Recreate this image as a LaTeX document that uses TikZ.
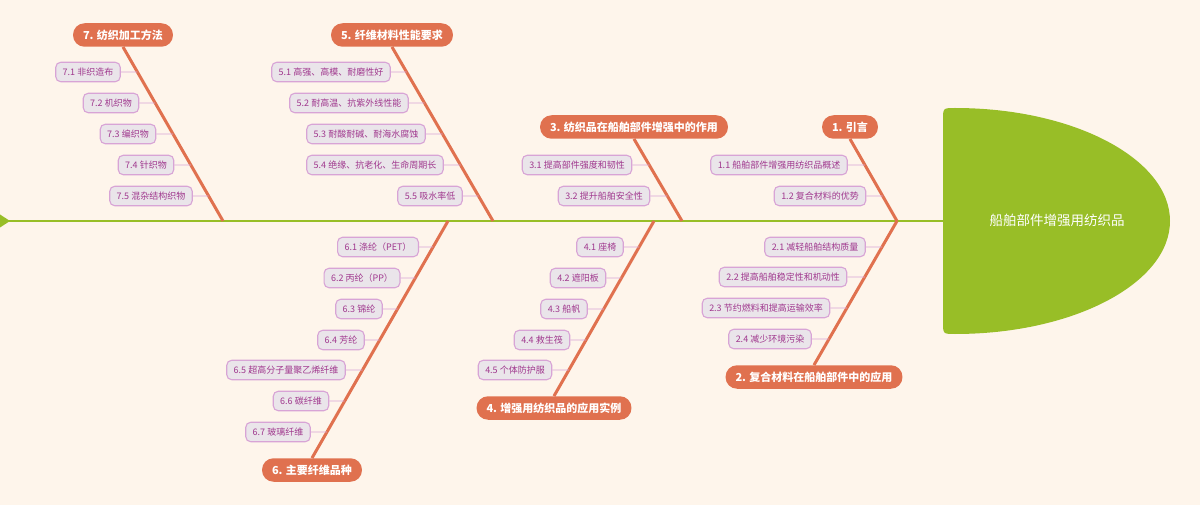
\documentclass[tikz,border=0pt]{standalone}
\usepackage{fontspec}
\setmainfont{Noto Sans CJK SC}
\usetikzlibrary{calc}
\definecolor{bg}{HTML}{FEF5EB}
\definecolor{orng}{HTML}{E0714F}
\definecolor{grn}{HTML}{98BE27}
\definecolor{subfill}{HTML}{EAE5EA}
\definecolor{subdraw}{HTML}{D8A4D6}
\definecolor{subtext}{HTML}{A0388E}
\tikzset{
  mainlbl/.style={fill=orng, text=white, rounded corners=11.5pt, minimum height=23.5pt,
    inner xsep=10pt, inner ysep=0pt, font=\fontsize{11}{13}\selectfont\bfseries},
  subbox/.style={fill=subfill, draw=subdraw, line width=1.1pt, rounded corners=5pt,
    minimum height=19.5pt, inner xsep=7pt, inner ysep=0pt, text=subtext,
    font=\fontsize{9}{11}\selectfont},
  bone/.style={draw=orng, line width=3pt},
  conn/.style={draw=subdraw, line width=0.9pt},
}
\begin{document}
\begin{tikzpicture}[x=1pt,y=-1pt]
\fill[bg] (0,0) rectangle (1200,505);
\useasboundingbox (0,0) rectangle (1200,505);
% spine and tail
\coordinate (tail) at (0,221);
\coordinate (J1) at (897,221);
\coordinate (J3) at (682,221);
\coordinate (J4) at (654,221);
\coordinate (J5) at (493,221);
\coordinate (J6) at (448,221);
\coordinate (J7) at (223,221);
\coordinate (headL) at (943,221);
\draw[grn, line width=1.6pt] (tail) -- (headL);
\fill[grn] (0,214.5) -- (10,221) -- (0,227.5) -- cycle;
% head
\fill[grn] (955,108) .. controls (1074,108) and (1170,159) .. (1170,221)
  .. controls (1170,283) and (1074,334) .. (955,334)
  .. controls (943,334) .. (943,322) -- (943,120) .. controls (943,108) .. (955,108) -- cycle;
\node[text=white, font=\fontsize{13.5}{16}\selectfont] (head) at (1057,220) {船舶部件增强用纺织品};
% main labels
\node[mainlbl] (L1) at (850,127) {1. 引言};
\node[mainlbl] (L2) at (814,377) {2. 复合材料在船舶部件中的应用};
\node[mainlbl] (L3) at (634,127) {3. 纺织品在船舶部件增强中的作用};
\node[mainlbl] (L4) at (554,408) {4. 增强用纺织品的应用实例};
\node[mainlbl] (L5) at (392,35) {5. 纤维材料性能要求};
\node[mainlbl] (L6) at (312,470) {6. 主要纤维品种};
\node[mainlbl] (L7) at (123,35) {7. 纺织加工方法};
% bones
\draw[bone] (L1.south) -- (J1);
\draw[bone] (J1) -- (L2.north);
\draw[bone] (L3.south) -- (J3);
\draw[bone] (J4) -- (L4.north);
\draw[bone] (L5.south) -- (J5);
\draw[bone] (J6) -- (L6.north);
\draw[bone] (L7.south) -- (J7);
% sub boxes
\node[subbox] (s11) at (779,165) {1.1 船舶部件增强用纺织品概述};
\node[subbox] (s12) at (820,196) {1.2 复合材料的优势};
\node[subbox] (s21) at (815,247) {2.1 减轻船舶结构质量};
\node[subbox] (s22) at (783,277) {2.2 提高船舶稳定性和机动性};
\node[subbox] (s23) at (766,308) {2.3 节约燃料和提高运输效率};
\node[subbox] (s24) at (770,339) {2.4 减少环境污染};
\node[subbox] (s31) at (577,165) {3.1 提高部件强度和韧性};
\node[subbox] (s32) at (604,196) {3.2 提升船舶安全性};
\node[subbox] (s41) at (600,247) {4.1 座椅};
\node[subbox] (s42) at (578,278) {4.2 遮阳板};
\node[subbox] (s43) at (564,309) {4.3 船帆};
\node[subbox] (s44) at (542,340) {4.4 救生筏};
\node[subbox] (s45) at (515,370) {4.5 个体防护服};
\node[subbox] (s51) at (331,72) {5.1 高强、高模、耐磨性好};
\node[subbox] (s52) at (349,103) {5.2 耐高温、抗紫外线性能};
\node[subbox] (s53) at (366,134) {5.3 耐酸耐碱、耐海水腐蚀};
\node[subbox] (s54) at (375,165) {5.4 绝缘、抗老化、生命周期长};
\node[subbox] (s55) at (430,196) {5.5 吸水率低};
\node[subbox] (s61) at (378,247) {6.1 涤纶（PET）};
\node[subbox] (s62) at (362,278) {6.2 丙纶（PP）};
\node[subbox] (s63) at (359,309) {6.3 锦纶};
\node[subbox] (s64) at (341,340) {6.4 芳纶};
\node[subbox] (s65) at (286,370) {6.5 超高分子量聚乙烯纤维};
\node[subbox] (s66) at (301,401) {6.6 碳纤维};
\node[subbox] (s67) at (278,432) {6.7 玻璃纤维};
\node[subbox] (s71) at (88,72) {7.1 非织造布};
\node[subbox] (s72) at (111,103) {7.2 机织物};
\node[subbox] (s73) at (128,134) {7.3 编织物};
\node[subbox] (s74) at (146,165) {7.4 针织物};
\node[subbox] (s75) at (151,196) {7.5 混杂结构织物};
% connectors
\foreach \s in {s11,s12} \draw[conn] (\s.east) -- (intersection of \s.west--\s.east and L1.south--J1);
\foreach \s in {s21,s22,s23,s24} \draw[conn] (\s.east) -- (intersection of \s.west--\s.east and J1--L2.north);
\foreach \s in {s31,s32} \draw[conn] (\s.east) -- (intersection of \s.west--\s.east and L3.south--J3);
\foreach \s in {s41,s42,s43,s44,s45} \draw[conn] (\s.east) -- (intersection of \s.west--\s.east and J4--L4.north);
\foreach \s in {s51,s52,s53,s54,s55} \draw[conn] (\s.east) -- (intersection of \s.west--\s.east and L5.south--J5);
\foreach \s in {s61,s62,s63,s64,s65,s66,s67} \draw[conn] (\s.east) -- (intersection of \s.west--\s.east and J6--L6.north);
\foreach \s in {s71,s72,s73,s74,s75} \draw[conn] (\s.east) -- (intersection of \s.west--\s.east and L7.south--J7);
\end{tikzpicture}
\end{document}
